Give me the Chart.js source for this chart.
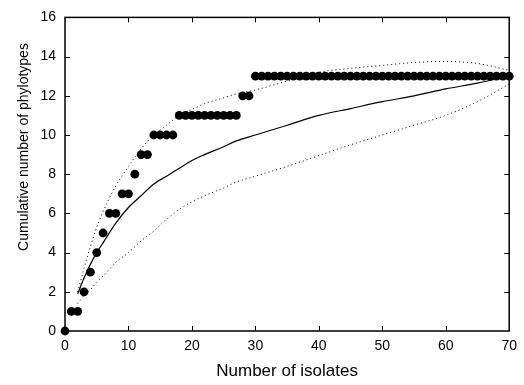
<!DOCTYPE html>
<html>
<head>
<meta charset="utf-8">
<script src="https://cdn.jsdelivr.net/npm/chart.js@4"></script>
<style>
  body { margin: 0; background: #fff; }
  #wrap { width: 524px; height: 385px; }
</style>
</head>
<body>
<div id="wrap"><canvas id="chart"></canvas></div>
<script>
// observed cumulative phylotypes per isolate
const isolates = [0, 1, 2, 3, 4, 5, 6, 7, 8, 9, 10, 11, 12, 13, 14, 15, 16, 17, 18, 19,
    20, 21, 22, 23, 24, 25, 26, 27, 28, 29, 30, 31, 32, 33, 34, 35, 36, 37, 38, 39,
    40, 41, 42, 43, 44, 45, 46, 47, 48, 49, 50, 51, 52, 53, 54, 55, 56, 57, 58, 59,
    60, 61, 62, 63, 64, 65, 66, 67, 68, 69, 70];
const phylotypes = [0, 1, 1, 2, 3, 4, 5, 6, 6, 7, 7, 8, 9, 9, 10, 10, 10, 10, 11, 11,
    11, 11, 11, 11, 11, 11, 11, 11, 12, 12, 13, 13, 13, 13, 13, 13, 13, 13, 13, 13,
    13, 13, 13, 13, 13, 13, 13, 13, 13, 13, 13, 13, 13, 13, 13, 13, 13, 13, 13, 13,
    13, 13, 13, 13, 13, 13, 13, 13, 13, 13, 13];

// rarefaction curve and its confidence bounds
const curveX = [2, 3, 4, 5, 6, 8, 10, 12, 14, 16, 18, 20, 22, 25, 27, 30, 35, 40, 45, 50, 55, 60, 65, 70];
const meanCurve = [1.9, 2.7, 3.4, 4.0, 4.5, 5.5, 6.3, 6.9, 7.5, 7.9, 8.3, 8.7, 9.0, 9.4, 9.7, 10.0, 10.5, 11.0, 11.35, 11.7, 12.0, 12.35, 12.65, 13.0];
const upperCurve = [2.0, 3.2, 4.3, 5.3, 6.1, 7.4, 8.4, 9.3, 10.0, 10.5, 11.0, 11.3, 11.6, 11.9, 12.1, 12.3, 12.75, 13.2, 13.4, 13.55, 13.7, 13.75, 13.65, 13.3];
const lowerCurve = [1.4, 1.8, 2.1, 2.5, 2.8, 3.5, 4.0, 4.6, 5.1, 5.7, 6.2, 6.6, 6.9, 7.3, 7.6, 7.9, 8.4, 8.95, 9.5, 10.0, 10.5, 11.0, 11.7, 12.6];

const xTicks = [0, 10, 20, 30, 40, 50, 60, 70];
const yTicks = [0, 2, 4, 6, 8, 10, 12, 14, 16];

const FONT = '"Liberation Sans", Arial, Helvetica, sans-serif';

const toPoints = (xs, ys) => xs.map((x, i) => ({x: x, y: ys[i]}));

// box around the plot with short inward ticks on all four sides
const frame = {
    id: 'frame',
    beforeDatasetsDraw(chart) {
        const {ctx, chartArea: a, scales} = chart;
        const len = 5;
        ctx.save();
        ctx.strokeStyle = '#000';
        ctx.lineWidth = 1.5;
        ctx.strokeRect(a.left, a.top, a.width, a.height);
        ctx.lineWidth = 1;
        ctx.beginPath();
        xTicks.slice(1, -1).forEach(v => {
            const px = Math.round(scales.x.getPixelForValue(v)) + 0.5;
            ctx.moveTo(px, a.bottom); ctx.lineTo(px, a.bottom - len);
            ctx.moveTo(px, a.top); ctx.lineTo(px, a.top + len);
        });
        yTicks.slice(1, -1).forEach(v => {
            const py = Math.round(scales.y.getPixelForValue(v)) + 0.5;
            ctx.moveTo(a.left, py); ctx.lineTo(a.left + len, py);
            ctx.moveTo(a.right, py); ctx.lineTo(a.right - len, py);
        });
        ctx.stroke();
        ctx.restore();
    },
    afterDraw(chart) {
        const {ctx} = chart;
        ctx.save();
        ctx.fillStyle = '#000';
        ctx.font = '14px ' + FONT;
        ctx.textAlign = 'center';
        ctx.textBaseline = 'middle';
        ctx.translate(24, 147);
        ctx.rotate(-Math.PI / 2);
        ctx.fillText('Cumulative number of phylotypes', 0, 0);
        ctx.restore();
    }
};

const ctx = document.getElementById('chart').getContext('2d');
new Chart(ctx, {
    type: 'scatter',
    data: {
        datasets: [{
            label: 'Observed',
            data: toPoints(isolates, phylotypes),
            backgroundColor: '#000',
            borderWidth: 0,
            pointRadius: 4.4,
            clip: false,
            order: 0
        }, {
            type: 'line',
            label: 'Rarefaction',
            data: toPoints(curveX, meanCurve),
            borderColor: '#000',
            borderWidth: 1.2,
            pointRadius: 0,
            cubicInterpolationMode: 'monotone',
            fill: false,
            order: 1
        }, {
            type: 'line',
            label: 'Upper',
            data: toPoints(curveX, upperCurve),
            borderColor: '#000',
            borderWidth: 1,
            borderDash: [1, 3],
            pointRadius: 0,
            cubicInterpolationMode: 'monotone',
            fill: false,
            order: 2
        }, {
            type: 'line',
            label: 'Lower',
            data: toPoints(curveX, lowerCurve),
            borderColor: '#000',
            borderWidth: 1,
            borderDash: [1, 3],
            pointRadius: 0,
            cubicInterpolationMode: 'monotone',
            fill: false,
            order: 3
        }]
    },
    options: {
        responsive: true,
        maintainAspectRatio: false,
        animation: false,
        layout: {padding: {top: 16, right: 7, left: 0, bottom: 0}},
        plugins: {
            legend: {display: false},
            tooltip: {enabled: false}
        },
        scales: {
            x: {
                type: 'linear',
                min: 0,
                max: 70,
                afterFit: s => { s.height = 54; },
                afterBuildTicks: s => { s.ticks = xTicks.map(v => ({value: v})); },
                grid: {display: false, drawTicks: false},
                border: {display: false},
                ticks: {color: '#000', padding: 7, font: {family: FONT, size: 14}},
                title: {
                    display: true,
                    text: 'Number of isolates',
                    color: '#000',
                    padding: {top: 0, bottom: 3},
                    font: {family: FONT, size: 17}
                }
            },
            y: {
                min: 0,
                max: 16,
                afterFit: s => { s.width = 65; },
                afterBuildTicks: s => { s.ticks = yTicks.map(v => ({value: v})); },
                grid: {display: false, drawTicks: false},
                border: {display: false},
                ticks: {color: '#000', padding: 9, font: {family: FONT, size: 14}}
            }
        }
    },
    plugins: [frame]
});
</script>
</body>
</html>
